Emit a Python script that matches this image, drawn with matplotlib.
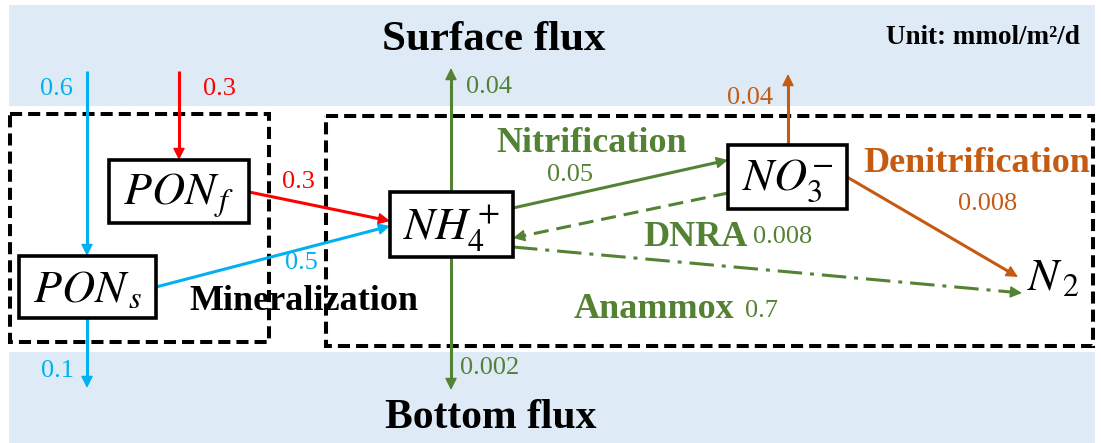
import numpy as np
import matplotlib
matplotlib.use('Agg')
import matplotlib.pyplot as plt
from matplotlib.patches import Rectangle

plt.rcParams['font.family'] = ['Liberation Serif', 'DejaVu Serif']
plt.rcParams['mathtext.fontset'] = 'stix'

# flux values, mmol/m2/d
surface_in = ['0.6', '0.3']          # -> PON_s, -> PON_f
surface_out = ['0.04', '0.04']       # NH4+ ->, NO3- ->
bottom_out = ['0.1', '0.002']        # PON_s ->, NH4+ ->
mineral_vals = ['0.3', '0.5']        # PON_f -> NH4+, PON_s -> NH4+
process_names = ['Nitrification', 'DNRA', 'Anammox', 'Denitrification']
process_vals = ['0.05', '0.008', '0.7', '0.008']

BLUE = '#00B0F0'
RED = '#FF0000'
GREEN = '#548235'
ORANGE = '#C55A11'
BAND = '#DEEAF6'

fig = plt.figure(figsize=(11.01, 4.43), dpi=100)
ax = fig.add_axes([0, 0, 1, 1])
ax.set_xlim(0, 1101)
ax.set_ylim(443, 0)
ax.axis('off')

# background bands
ax.add_patch(Rectangle((9, 5), 1086, 101, color=BAND, lw=0, zorder=0))
ax.add_patch(Rectangle((9, 352), 1086, 91, color=BAND, lw=0, zorder=0))

# dashed group boxes
for x0, y0, x1, y1 in [(10, 114, 269, 342), (326, 116, 1093, 346)]:
    ax.add_patch(Rectangle((x0, y0), x1 - x0, y1 - y0, fill=False, ec='k',
                           lw=2.9, ls=(0, (3, 1.5)), zorder=1))

ax.text(494, 40, 'Surface flux', fontsize=31, fontweight='bold', ha='center', va='center')
ax.text(491, 418, 'Bottom flux', fontsize=30, fontweight='bold', ha='center', va='center')
ax.text(983, 37, 'Unit: mmol/m²/d', fontsize=19.5, fontweight='bold',
        ha='center', va='center')


def arrow(p0, p1, color, ls='-'):
    p0, p1 = np.array(p0, float), np.array(p1, float)
    d = (p1 - p0) / np.hypot(*(p1 - p0))
    ax.plot([p0[0], p1[0] - 6 * d[0]], [p0[1], p1[1] - 6 * d[1]], color=color,
            lw=2.2, ls=ls, zorder=2, solid_capstyle='butt')
    ax.annotate('', xy=p1, xytext=p1 - 12 * d,
                arrowprops=dict(arrowstyle='-|>', mutation_scale=18, color=color,
                                lw=1, shrinkA=0, shrinkB=0), zorder=3)


def box(x0, y0, x1, y1, label, base):
    ax.add_patch(Rectangle((x0, y0), x1 - x0, y1 - y0, fc='white', ec='k', lw=2.6, zorder=4))
    ax.text((x0 + x1) / 2, base, label, fontsize=33, ha='center', va='baseline', zorder=5)


# arrows
arrow((87, 71), (87, 256), BLUE)
arrow((179, 71), (179, 160), RED)
arrow((249, 192), (390, 221), RED)
arrow((156, 287), (390, 226), BLUE)
arrow((87, 318), (87, 388), BLUE)
arrow((451, 192), (451, 68), GREEN)
arrow((451, 257), (451, 390), GREEN)
arrow((513, 208), (728, 160), GREEN)
arrow((728, 193), (513, 238), GREEN, ls=(0, (4.9, 2.6)))
arrow((513, 247), (1022, 293), GREEN, ls=(0, (8, 2.6, 1.3, 2.6)))
arrow((788, 145), (788, 74), ORANGE)
arrow((847, 177), (1018, 277), ORANGE)

# boxes
box(109, 160, 249, 223, '$PON_{\\,f}$', 205)
box(19, 256, 156, 318, '$PON_{\\,s}$', 302)
box(390, 192, 513, 257, '$NH_4^+$', 240)
box(728, 145, 847, 209, '$NO_3^{-}$', 190)
ax.text(1053, 290, '$N_{\\,2}$', fontsize=33, ha='center', va='baseline')

# flux labels
num = dict(fontsize=19, ha='center', va='center')
ax.text(56, 89, surface_in[0], color=BLUE, **num)
ax.text(219, 89, surface_in[1], color=RED, **num)
ax.text(489, 87, surface_out[0], color=GREEN, **num)
ax.text(750, 98, surface_out[1], color=ORANGE, **num)
ax.text(57, 371, bottom_out[0], color=BLUE, **num)
ax.text(490, 368, bottom_out[1], color=GREEN, **num)
ax.text(298, 182, mineral_vals[0], color=RED, **num)
ax.text(301, 263, mineral_vals[1], color=BLUE, **num)

bold = dict(fontsize=26, fontweight='bold', ha='center', va='center')
ax.text(304, 301, 'Mineralization', color='k', **bold)
ax.text(592, 143, process_names[0], color=GREEN, **bold)
ax.text(570, 175, process_vals[0], color=GREEN, **num)
ax.text(695, 237, process_names[1], color=GREEN, **bold)
ax.text(783, 237, process_vals[1], color=GREEN, **num)
ax.text(654, 309, process_names[2], color=GREEN, **bold)
ax.text(761, 311, process_vals[2], color=GREEN, **num)
ax.text(977, 163, process_names[3], color=ORANGE, **bold)
ax.text(988, 204, process_vals[3], color=ORANGE, **num)

fig.savefig('out.png', dpi=100)
